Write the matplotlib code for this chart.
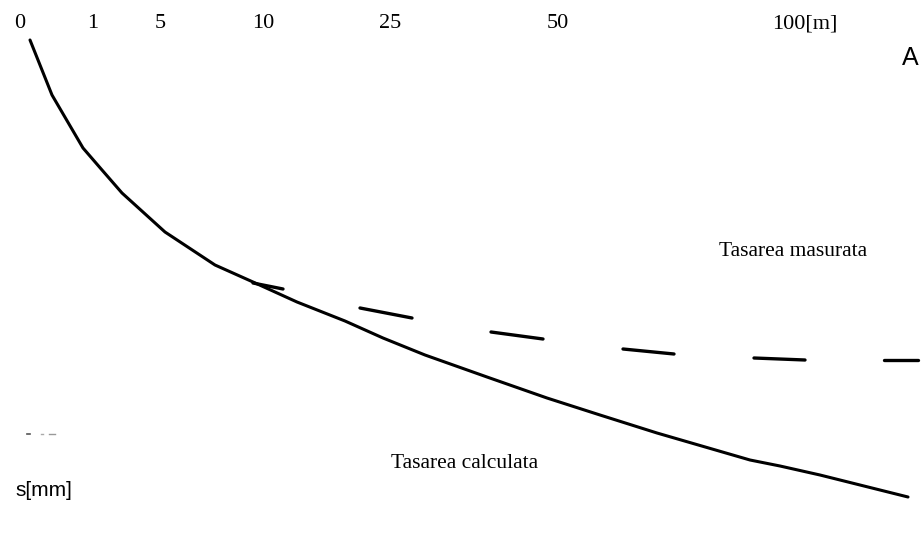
import matplotlib.pyplot as plt

# distance scale along the top (label positions in drawing units)
dist_labels = ['0', '1', '5', '10', '25', '50', '100[m]']
dist_pos = [20, 93, 160, 263, 390, 558, 805]

# calculated settlement curve (solid)
calc_x = [30, 52, 83, 102, 122, 165, 215, 253, 297, 345, 383, 425, 487, 547, 600, 657, 750, 780, 820, 908]
calc_y = [40, 95, 148, 170, 193, 232, 265, 282, 302, 321, 338, 355, 377, 398, 415, 433, 460, 466, 475, 497]

# measured settlement (hand drawn dashes: start/end of each stroke)
meas_x0 = [253, 360, 491, 623, 754, 884]
meas_y0 = [283, 308, 332, 349, 358, 360]
meas_x1 = [283, 412, 543, 674, 805, 918]
meas_y1 = [289, 318, 339, 354, 360, 360]

fig = plt.figure(figsize=(9.23, 5.54), dpi=100)
ax = fig.add_axes([0, 0, 1, 1])
ax.set_xlim(0, 923)
ax.set_ylim(554, 0)

ax.plot(calc_x, calc_y, color='black', lw=2.2, solid_capstyle='round', solid_joinstyle='round')
for x0, y0, x1, y1 in zip(meas_x0, meas_y0, meas_x1, meas_y1):
    ax.plot([x0, x1], [y0, y1], color='black', lw=2.4, solid_capstyle='round')

# faint pencil marks on the left
ax.plot([27, 30], [434, 434], color='#555555', lw=1.2)
ax.plot([41, 43], [434, 434], color='#aaaaaa', lw=1.0)
ax.plot([49, 55], [434, 434], color='#999999', lw=1.0)

serif = ['Liberation Serif', 'DejaVu Serif']
narrow = ['Liberation Sans Narrow', 'Liberation Sans', 'DejaVu Sans']

for lab, xp in zip(dist_labels, dist_pos):
    ax.text(xp, 24, lab, ha='center', va='center', fontsize=16, family=serif)

ax.text(910, 58, 'A', ha='center', va='center', fontsize=18, family=['Liberation Sans', 'DejaVu Sans'])
ax.text(793, 252, 'Tasarea masurata', ha='center', va='center', fontsize=15.5, family=serif)
ax.text(465, 463, 'Tasarea calculata', ha='center', va='center', fontsize=15.5, family=serif)
ax.text(15, 491, 's[mm]', ha='left', va='center', fontsize=15, family=narrow)

ax.axis('off')
fig.savefig('out.png', dpi=100, facecolor='white')
